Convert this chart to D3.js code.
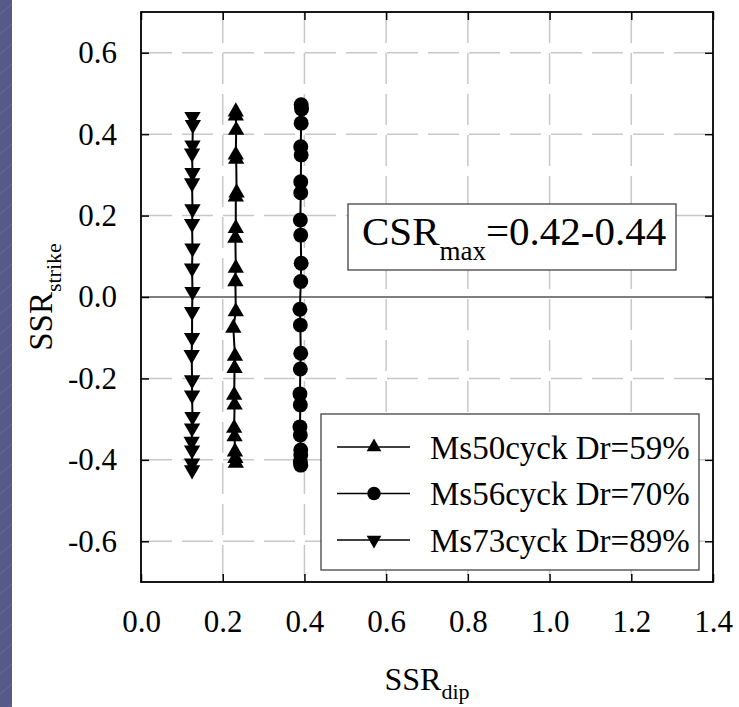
<!DOCTYPE html>
<html>
<head>
<meta charset="utf-8">
<script src="https://cdn.jsdelivr.net/npm/d3@7"></script>
<style>
  html, body { margin: 0; padding: 0; background: #ffffff; }
  svg { display: block; }
  text { font-family: "Liberation Serif", "Times New Roman", serif; fill: #000; }
</style>
</head>
<body>
<svg id="chart" width="739" height="707"></svg>
<script>
// Tick values
const xTicks = [0.0, 0.2, 0.4, 0.6, 0.8, 1.0, 1.2, 1.4];
const yTicks = [-0.6, -0.4, -0.2, 0.0, 0.2, 0.4, 0.6];

// Series: SSR_dip (x) and SSR_strike (y)
const ms50Label = "Ms50cyck Dr=59%";
const ms50X = [0.232, 0.232, 0.233, 0.232, 0.233, 0.234, 0.232, 0.232, 0.231, 0.232, 0.231, 0.232, 0.226, 0.230, 0.229, 0.228, 0.229, 0.228, 0.229, 0.230, 0.231, 0.232];
const ms50Y = [0.455, 0.445, 0.410, 0.349, 0.339, 0.256, 0.246, 0.169, 0.145, 0.071, 0.038, -0.036, -0.076, -0.145, -0.175, -0.241, -0.265, -0.322, -0.343, -0.380, -0.396, -0.408];

const ms56Label = "Ms56cyck Dr=70%";
const ms56X = [0.392, 0.393, 0.392, 0.391, 0.392, 0.391, 0.391, 0.390, 0.391, 0.392, 0.391, 0.389, 0.390, 0.391, 0.390, 0.389, 0.390, 0.389, 0.390, 0.391, 0.391, 0.390, 0.391];
const ms56Y = [0.472, 0.462, 0.427, 0.369, 0.349, 0.283, 0.256, 0.189, 0.152, 0.083, 0.038, -0.030, -0.069, -0.138, -0.177, -0.238, -0.265, -0.319, -0.339, -0.376, -0.388, -0.405, -0.413];

const ms73Label = "Ms73cyck Dr=89%";
const ms73X = [0.126, 0.127, 0.126, 0.125, 0.126, 0.125, 0.126, 0.125, 0.126, 0.125, 0.126, 0.125, 0.125, 0.124, 0.125, 0.125, 0.126, 0.125, 0.124, 0.125, 0.125, 0.125];
const ms73Y = [0.443, 0.423, 0.373, 0.353, 0.305, 0.280, 0.216, 0.180, 0.120, 0.071, 0.013, -0.036, -0.100, -0.142, -0.204, -0.241, -0.294, -0.322, -0.355, -0.376, -0.408, -0.425];

const annotationValue = "=0.42-0.44";

const svg = d3.select("#chart");
const W = 739, H = 707;
const plot = { left: 141, right: 713, top: 12, bottom: 582 };

// Slide-style strip along the left edge
const strip = svg.append("g");
strip.append("rect").attr("x", 0).attr("y", 0).attr("width", 12).attr("height", H).attr("fill", "#57598b");
for (let k = -2; k < 40; k++) {
  strip.append("line")
    .attr("x1", 0).attr("y1", k * 20 + 14)
    .attr("x2", 12).attr("y2", k * 20 + 4)
    .attr("stroke", "#8587b3").attr("stroke-width", 0.7).attr("opacity", 0.6);
}

const x = d3.scaleLinear().domain([0, 1.4]).range([plot.left, plot.right]);
const y = d3.scaleLinear().domain([-0.7, 0.7]).range([plot.bottom, plot.top]);

// Dashed grid
const grid = svg.append("g").attr("stroke", "#c8c8c8").attr("stroke-width", 1.5).attr("stroke-dasharray", "31,10");
xTicks.filter(v => v > 0 && v < 1.4).forEach(v => {
  grid.append("line").attr("x1", x(v)).attr("x2", x(v)).attr("y1", plot.top).attr("y2", plot.bottom);
});
yTicks.filter(v => v !== 0).forEach(v => {
  grid.append("line").attr("x1", plot.left).attr("x2", plot.right).attr("y1", y(v)).attr("y2", y(v));
});

// Zero line
svg.append("line")
  .attr("x1", plot.left).attr("x2", plot.right)
  .attr("y1", y(0)).attr("y2", y(0))
  .attr("stroke", "#000").attr("stroke-width", 1.2);

// Axes with inward ticks on all four sides; plain hyphen for negatives
const fmt = d => d.toFixed(1);
const tickLen = 8;
const axB = svg.append("g").attr("transform", `translate(0,${plot.bottom})`)
  .call(d3.axisBottom(x).tickValues(xTicks).tickFormat(fmt).tickSize(-tickLen).tickPadding(28));
const axT = svg.append("g").attr("transform", `translate(0,${plot.top})`)
  .call(d3.axisTop(x).tickValues(xTicks).tickFormat("").tickSize(-tickLen));
const axL = svg.append("g").attr("transform", `translate(${plot.left},0)`)
  .call(d3.axisLeft(y).tickValues(yTicks).tickFormat(fmt).tickSize(-tickLen).tickPadding(24));
const axR = svg.append("g").attr("transform", `translate(${plot.right},0)`)
  .call(d3.axisRight(y).tickValues(yTicks).tickFormat("").tickSize(-tickLen));
[axB, axT, axL, axR].forEach(a => {
  a.select(".domain").remove();
  a.selectAll(".tick line").attr("stroke", "#000").attr("stroke-width", 1.5);
  a.selectAll("text").attr("font-size", 31).attr("font-family", "Liberation Serif, serif").attr("fill", "#000");
});

// Frame
svg.append("rect")
  .attr("x", plot.left).attr("y", plot.top)
  .attr("width", plot.right - plot.left).attr("height", plot.bottom - plot.top)
  .attr("fill", "none").attr("stroke", "#000").attr("stroke-width", 1.8);

// Series
const triUp = d3.symbol().type(d3.symbolTriangle).size(115);
const circ = d3.symbol().type(d3.symbolCircle).size(175);
const series = [
  { label: ms50Label, xs: ms50X, ys: ms50Y, shape: triUp, rot: 0 },
  { label: ms56Label, xs: ms56X, ys: ms56Y, shape: circ, rot: 0 },
  { label: ms73Label, xs: ms73X, ys: ms73Y, shape: triUp, rot: 180 }
];
const line = d3.line().x(d => x(d[0])).y(d => y(d[1]));
series.forEach(s => {
  const pts = s.xs.map((v, i) => [v, s.ys[i]]);
  svg.append("path").datum(pts).attr("d", line)
    .attr("fill", "none").attr("stroke", "#000").attr("stroke-width", 2);
  svg.append("g").selectAll("path").data(pts).join("path")
    .attr("d", s.shape)
    .attr("transform", d => `translate(${x(d[0])},${y(d[1])}) rotate(${s.rot})`)
    .attr("fill", "#000");
});

// Annotation box
const ann = svg.append("g");
ann.append("rect").attr("x", 348).attr("y", 204).attr("width", 328).attr("height", 66)
  .attr("fill", "#fff").attr("stroke", "#333").attr("stroke-width", 1.2);
const annText = ann.append("text").attr("x", 362).attr("y", 245).attr("font-size", 41);
annText.append("tspan").text("CSR");
annText.append("tspan").attr("font-size", 27).attr("dy", 15).text("max");
annText.append("tspan").attr("dy", -15).text(annotationValue);

// Legend
const leg = svg.append("g");
leg.append("rect").attr("x", 321).attr("y", 414).attr("width", 378).attr("height", 156)
  .attr("fill", "#fff").attr("stroke", "#333").attr("stroke-width", 1.2);
series.forEach((s, i) => {
  const cy = 447 + i * 46.5;
  leg.append("line").attr("x1", 337).attr("x2", 410).attr("y1", cy).attr("y2", cy)
    .attr("stroke", "#000").attr("stroke-width", 1.5);
  leg.append("path").attr("d", s.shape).attr("transform", `translate(374,${cy}) rotate(${s.rot}) scale(0.9)`).attr("fill", "#000");
  leg.append("text").attr("x", 430).attr("y", cy).attr("dy", "0.35em").attr("font-size", 33).text(s.label);
});

// Axis titles
const xt = svg.append("text").attr("x", (plot.left + plot.right) / 2).attr("y", 690)
  .attr("text-anchor", "middle").attr("font-size", 32);
xt.append("tspan").text("SSR");
xt.append("tspan").attr("font-size", 22).attr("dy", 9).text("dip");

const yt = svg.append("text")
  .attr("transform", `translate(52,${(plot.top + plot.bottom) / 2}) rotate(-90)`)
  .attr("text-anchor", "middle").attr("font-size", 33);
yt.append("tspan").text("SSR");
yt.append("tspan").attr("font-size", 22).attr("dy", 9).text("strike");
</script>
</body>
</html>
